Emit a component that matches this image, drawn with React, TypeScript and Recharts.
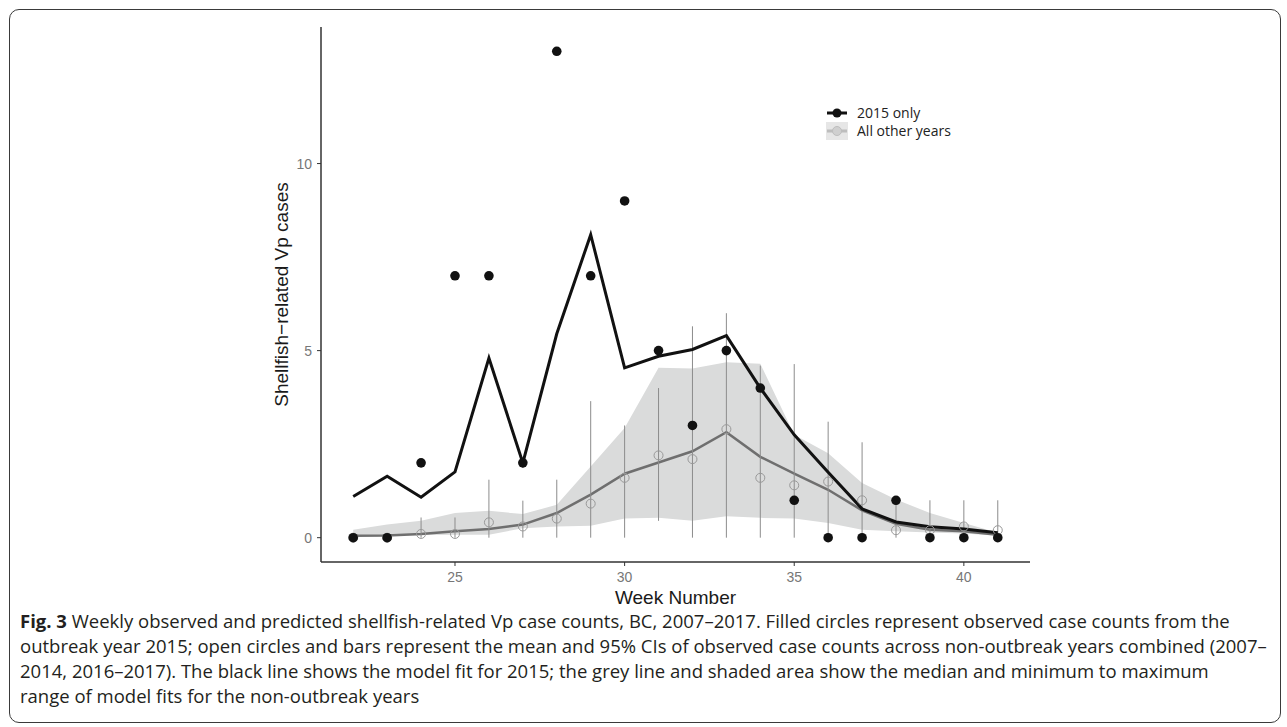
import React from "react";
import {
  ComposedChart,
  Area,
  Line,
  Scatter,
  ErrorBar,
  XAxis,
  YAxis,
  Label,
} from "recharts";

// week numbers
const WEEKS = [22, 23, 24, 25, 26, 27, 28, 29, 30, 31, 32, 33, 34, 35, 36, 37, 38, 39, 40, 41];
// 2015 observed counts (filled dots) and model fit (black line)
const OBS_2015 = [0, 0, 2, 7, 7, 2, 13, 7, 9, 5, 3, 5, 4, 1, 0, 0, 1, 0, 0, 0];
const FIT_2015 = [1.1, 1.64, 1.08, 1.76, 4.8, 2.0, 5.45, 8.1, 4.54, 4.85, 5.03, 5.4, 4.0, 2.75, 1.75, 0.77, 0.42, 0.29, 0.23, 0.13];
// other years: mean observed (open circles) with 95% CI
const MEAN_OTHER = [0, 0, 0.1, 0.1, 0.41, 0.3, 0.51, 0.91, 1.6, 2.2, 2.1, 2.9, 1.6, 1.4, 1.5, 1.0, 0.2, 0.2, 0.3, 0.2];
const CI_LOW = [0, 0, 0, 0, 0, 0, 0, 0, 0, 0.45, 0, 0, 0, 0, 0, 0, 0, 0, 0, 0];
const CI_HIGH = [0, 0, 0.54, 0.54, 1.55, 0.99, 1.55, 3.65, 3.0, 4.0, 5.65, 6.0, 4.6, 4.64, 3.1, 2.55, 1.0, 1.0, 1.0, 1.0];
// other years: median model fit (grey line) and min-max range (shaded)
const MEDIAN_OTHER = [0.05, 0.06, 0.1, 0.17, 0.23, 0.35, 0.66, 1.15, 1.71, 2.01, 2.31, 2.82, 2.16, 1.71, 1.28, 0.73, 0.37, 0.21, 0.17, 0.08];
const BAND_LOW = [0.05, 0.06, 0.07, 0.08, 0.08, 0.25, 0.3, 0.32, 0.51, 0.53, 0.45, 0.57, 0.53, 0.51, 0.39, 0.21, 0.17, 0.14, 0.11, 0.05];
const BAND_HIGH = [0.21, 0.35, 0.45, 0.66, 0.72, 0.63, 0.88, 1.9, 2.93, 4.54, 4.52, 4.69, 4.65, 2.75, 2.26, 1.46, 1.02, 0.66, 0.39, 0.13];

const X_TICKS = [25, 30, 35, 40];
const Y_TICKS = [0, 5, 10];

const data = WEEKS.map((week, i) => ({
  week,
  obs: OBS_2015[i],
  fit: FIT_2015[i],
  mean: MEAN_OTHER[i],
  ci: [MEAN_OTHER[i] - CI_LOW[i], CI_HIGH[i] - MEAN_OTHER[i]],
  median: MEDIAN_OTHER[i],
  band: [BAND_LOW[i], BAND_HIGH[i]],
}));

const AXIS_FONT = "'Liberation Sans', Arial, sans-serif";
const TEXT_FONT = "'Open Sans', 'Noto Sans', sans-serif";

const XTitle = (props: any) => {
  const { viewBox } = props;
  return (
    <text
      x={viewBox.x + viewBox.width / 2}
      y={viewBox.y + 35}
      textAnchor="middle"
      dominantBaseline="central"
      fontFamily={AXIS_FONT}
      fontSize={19}
      fill="#1a1a1a"
    >
      Week Number
    </text>
  );
};

const YTitle = (props: any) => {
  const { viewBox } = props;
  const cx = viewBox.x + viewBox.width - 40;
  const cy = viewBox.y + viewBox.height / 2;
  return (
    <text
      x={cx}
      y={cy}
      transform={`rotate(-90 ${cx} ${cy})`}
      textAnchor="middle"
      dominantBaseline="central"
      fontFamily={AXIS_FONT}
      fontSize={19}
      fill="#1a1a1a"
    >
      Shellfish−related Vp cases
    </text>
  );
};

const CAPTION = [
  "Weekly observed and predicted shellfish-related Vp case counts, BC, 2007–2017. Filled circles represent observed case counts from the",
  "outbreak year 2015; open circles and bars represent the mean and 95% CIs of observed case counts across non-outbreak years combined (2007–",
  "2014, 2016–2017). The black line shows the model fit for 2015; the grey line and shaded area show the median and minimum to maximum",
  "range of model fits for the non-outbreak years",
];

export default function App() {
  return (
    <div style={{ position: "absolute", left: 0, top: 0, width: 1287, height: 727, background: "#fff" }}>
      <div
        style={{
          position: "absolute",
          left: 9,
          top: 9,
          width: 1272,
          height: 714,
          boxSizing: "border-box",
          border: "1.5px solid #3a3a3a",
          borderRadius: 10,
        }}
      />
      <div style={{ position: "absolute", left: 0, top: 0 }}>
        <ComposedChart width={1287} height={620} data={data} margin={{ top: 27, right: 257, left: 0, bottom: 0 }}>
          <XAxis
            dataKey="week"
            type="number"
            domain={[21.05, 41.95]}
            ticks={X_TICKS}
            allowDataOverflow
            height={58}
            tickSize={4}
            tickMargin={6}
            axisLine={{ stroke: "#333", strokeWidth: 1.5 }}
            tickLine={{ stroke: "#333" }}
            tick={{ fill: "#777", fontSize: 14, fontFamily: AXIS_FONT }}
          >
            <Label content={XTitle} />
          </XAxis>
          <YAxis
            type="number"
            domain={[-0.65, 13.65]}
            ticks={Y_TICKS}
            allowDataOverflow
            width={321}
            tickSize={4}
            tickMargin={5}
            axisLine={{ stroke: "#333", strokeWidth: 1.5 }}
            tickLine={{ stroke: "#333" }}
            tick={{ fill: "#777", fontSize: 14, fontFamily: AXIS_FONT }}
          >
            <Label content={YTitle} />
          </YAxis>
          <Area
            dataKey="band"
            type="linear"
            fill="#dadbdb"
            fillOpacity={1}
            stroke="none"
            isAnimationActive={false}
          />
          <Line
            dataKey="median"
            type="linear"
            stroke="#6f6f6f"
            strokeWidth={2.5}
            dot={false}
            isAnimationActive={false}
          />
          <Scatter
            dataKey="mean"
            isAnimationActive={false}
            shape={(p: any) => (
              <circle cx={p.cx} cy={p.cy} r={4.5} fill="none" stroke="#999" strokeWidth={1} />
            )}
          >
            <ErrorBar dataKey="ci" direction="y" width={0} stroke="#8c8c8c" strokeWidth={1} isAnimationActive={false} />
          </Scatter>
          <Line
            dataKey="fit"
            type="linear"
            stroke="#111"
            strokeWidth={3}
            dot={false}
            isAnimationActive={false}
          />
          <Scatter
            dataKey="obs"
            isAnimationActive={false}
            shape={(p: any) => <circle cx={p.cx} cy={p.cy} r={4.8} fill="#111" />}
          />
        </ComposedChart>
      </div>
      {/* legend */}
      <div
        style={{
          position: "absolute",
          left: 826,
          top: 104,
          fontFamily: TEXT_FONT,
          fontSize: 14,
          color: "#222",
          lineHeight: "18px",
        }}
      >
        <div style={{ display: "flex", alignItems: "center", height: 18 }}>
          <svg width={22} height={18}>
            <line x1={1} x2={21} y1={9} y2={9} stroke="#111" strokeWidth={3} />
            <circle cx={11} cy={9} r={4.5} fill="#111" />
          </svg>
          <span style={{ marginLeft: 9 }}>2015 only</span>
        </div>
        <div style={{ display: "flex", alignItems: "center", height: 18 }}>
          <svg width={22} height={18}>
            <rect x={0} y={0} width={22} height={18} fill="#e6e6e6" />
            <line x1={1} x2={21} y1={9} y2={9} stroke="#bdbdbd" strokeWidth={3} />
            <circle cx={11} cy={9} r={4.5} fill="#cfcfcf" stroke="#bdbdbd" />
          </svg>
          <span style={{ marginLeft: 9 }}>All other years</span>
        </div>
      </div>
      {/* caption */}
      <div
        style={{
          position: "absolute",
          left: 20,
          top: 608,
          fontFamily: TEXT_FONT,
          fontSize: 18.5,
          lineHeight: "25px",
          color: "#231f20",
          whiteSpace: "nowrap",
        }}
      >
        {CAPTION.map((line, i) => (
          <div key={i}>
            {i === 0 && <b>Fig. 3 </b>}
            {line}
          </div>
        ))}
      </div>
    </div>
  );
}
